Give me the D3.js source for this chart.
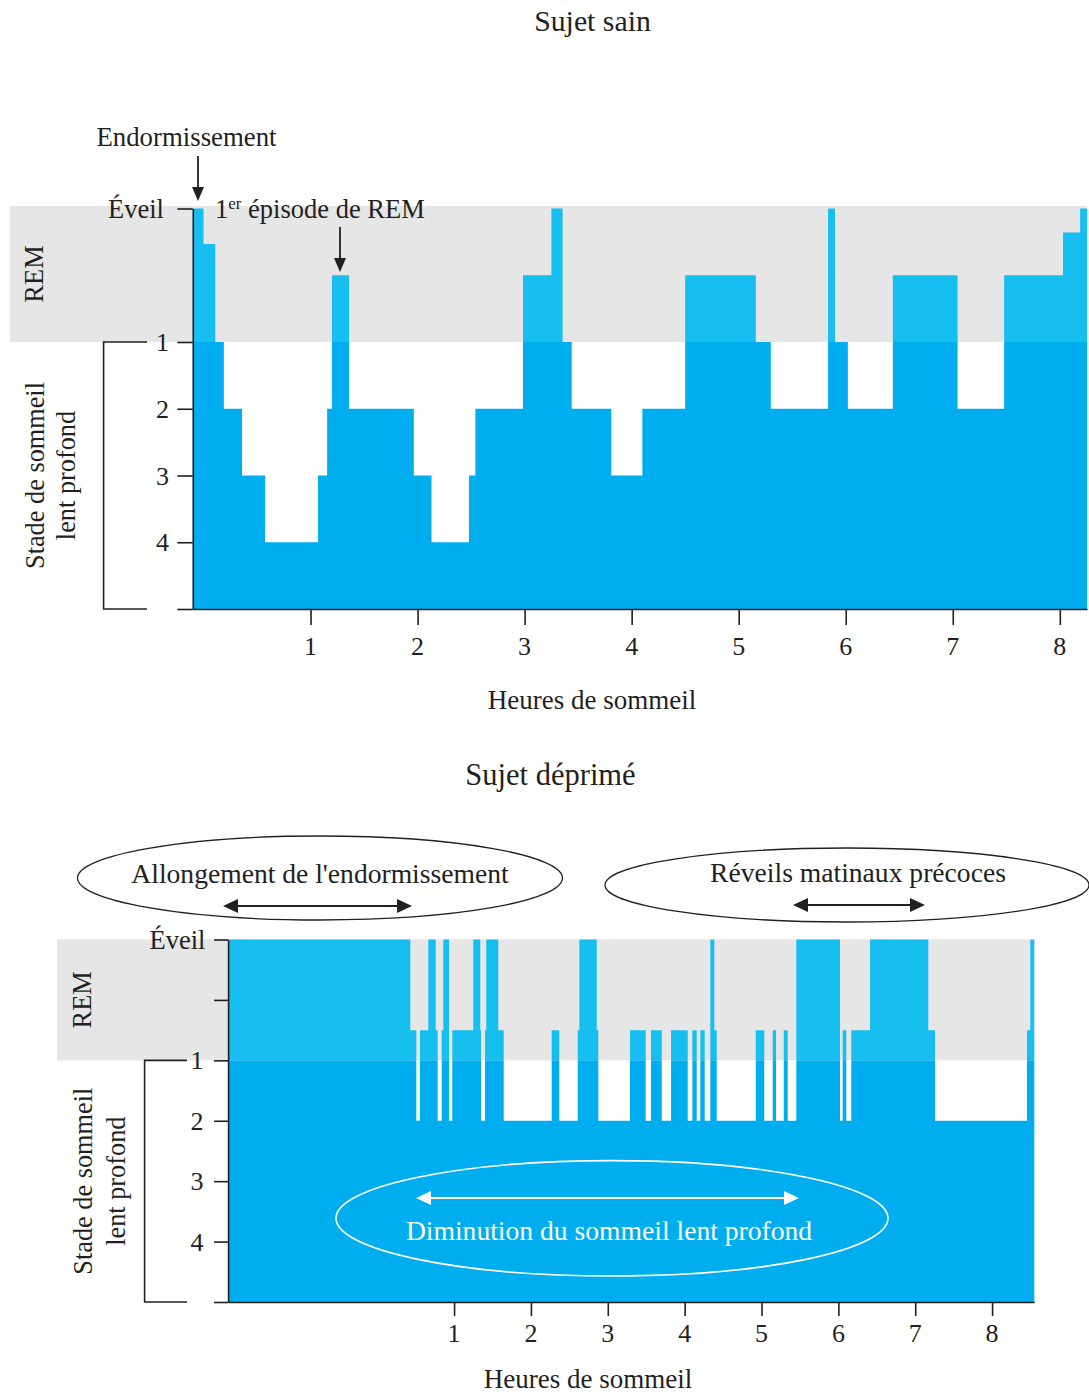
<!DOCTYPE html>
<html><head><meta charset="utf-8">
<script src="https://cdn.jsdelivr.net/npm/d3@7"></script>
<style>
body{margin:0;background:#fff}
svg text{font-family:"Liberation Serif","Times New Roman",serif;fill:#231F20}
</style>
</head><body>
<svg id="c" width="1089" height="1394"></svg>
<script>
// ---------- DATA ----------
// Stage levels: -1 = Éveil, 0 = REM (healthy), 0.5 = REM (depressed), 1..4 = slow-wave stages
const topStart = [-0.1, 0.0, 0.11, 0.19, 0.36, 0.575, 1.07, 1.155, 1.2, 1.36, 1.965, 2.13, 2.48, 2.54, 2.985, 3.25, 3.355, 3.44, 3.81, 4.10, 4.50, 5.16, 5.30, 5.835, 5.90, 6.02, 6.44, 7.045, 7.48, 8.03, 8.19];
const topLevel = [-1, -0.47, 1, 2, 3, 4, 3, 2, 0, 2, 3, 4, 3, 2, 0, -1, 1, 2, 3, 2, 0, 1, 2, -1, 1, 2, 0, 2, 0, -0.64, -1];
const topEnd = 8.255;

const botStart = [-1.94, 0.431, 0.509, 0.557, 0.665, 0.761, 0.787, 0.839, 0.86, 0.934, 0.977, 1.25, 1.341, 1.351, 1.403, 1.419, 1.576, 1.646, 2.27, 2.369, 2.609, 2.63, 2.856, 2.877, 3.289, 3.493, 3.562, 3.702, 3.823, 4.04, 4.10, 4.157, 4.204, 4.261, 4.334, 4.386, 4.417, 4.925, 5.036, 5.146, 5.189, 5.289, 5.341, 5.453, 6.021, 6.056, 6.103, 6.168, 6.412, 7.17, 7.257, 8.454, 8.497];
const botLevel = [-1, .5, 2, .5, -1, .5, 2, .5, -1, 2, .5, -1, .5, 2, .5, -1, .5, 2, .5, 2, .5, -1, .5, 2, .5, 2, .5, 2, .5, 2, .5, 2, .5, 2, -1, .5, 2, .5, 2, .5, 2, .5, 2, -1, 2, .5, 2, .5, -1, .5, 2, .5, -1];
const botEnd = 8.549;

const hourTicks = [1, 2, 3, 4, 5, 6, 7, 8];
const stageTicks = [1, 2, 3, 4];
const titles = ["Sujet sain", "Sujet déprimé"];
const xTitle = "Heures de sommeil";
const wakeLabel = "Éveil";
const remLabel = "REM";
const stageTitle = ["Stade de sommeil", "lent profond"];

// ---------- STYLE ----------
const INK = "#231F20", BLUE = "#00AEEF", LBLUE = "#17BEF0", GREY = "#E6E6E6";
const svg = d3.select("#c");
const defs = svg.append("defs");

function hypnogram(o) {
  const {x, y, starts, levels, end, id} = o;
  const pts = starts.map((s, i) => ({h: s, l: levels[i]}));
  pts.push({h: end, l: levels[levels.length - 1]});
  const x0 = x(starts[0]), x1 = x(end);
  // REM band
  svg.append("rect").attr("x", o.bandX).attr("y", o.bandTop)
    .attr("width", x1 - o.bandX).attr("height", y(1) - o.bandTop).attr("fill", GREY);
  defs.append("clipPath").attr("id", id + "u").append("rect")
    .attr("x", 0).attr("y", 0).attr("width", 1089).attr("height", y(1));
  defs.append("clipPath").attr("id", id + "l").append("rect")
    .attr("x", 0).attr("y", y(1)).attr("width", 1089).attr("height", 1394);
  const area = d3.area().x(d => x(d.h)).y0(y(5)).y1(d => y(d.l)).curve(d3.curveStepAfter);
  svg.append("path").datum(pts).attr("d", area).attr("fill", LBLUE).attr("clip-path", `url(#${id}u)`);
  svg.append("path").datum(pts).attr("d", area).attr("fill", BLUE).attr("clip-path", `url(#${id}l)`);

  // x axis
  const xa = x.copy().domain([starts[0], end]).range([x0, x1]);
  const gx = svg.append("g").attr("transform", `translate(0,${y(5)})`)
    .call(d3.axisBottom(xa).tickValues(hourTicks).tickSize(o.xTick).tickSizeOuter(0).tickFormat(""));
  gx.selectAll("path,line").attr("stroke", INK).attr("stroke-width", 1.6);
  svg.append("g").selectAll("text").data(hourTicks).join("text")
    .attr("x", d => x(d)).attr("y", o.xLabelY).attr("text-anchor", "middle")
    .attr("font-size", 26).text(d => d);

  // y axis
  const gy = svg.append("g").attr("transform", `translate(${x0},0)`)
    .call(d3.axisLeft(y).tickValues(o.yTicks).tickSize(o.yTick).tickSizeOuter(0).tickFormat(""));
  gy.selectAll("path,line").attr("stroke", INK).attr("stroke-width", 1.6);
  svg.append("g").selectAll("text").data(stageTicks).join("text")
    .attr("x", o.numX).attr("y", d => y(d) + 9).attr("text-anchor", "middle")
    .attr("font-size", 26).text(d => d);
  svg.append("text").attr("x", o.wakeX).attr("y", y(-1) + 9).attr("text-anchor", "end")
    .attr("font-size", 26.5).text(wakeLabel);

  // bracket
  svg.append("path").attr("d", `M${o.brR},${y(1)}H${o.brL}V${y(5)}H${o.brR}`)
    .attr("fill", "none").attr("stroke", INK).attr("stroke-width", 1.6);

  // rotated labels
  svg.append("text").attr("transform", `translate(${o.remX},${(o.bandTop + y(1)) / 2}) rotate(-90)`)
    .attr("text-anchor", "middle").attr("dominant-baseline", "central")
    .attr("font-size", 26.5).text(remLabel);
  const cy = (y(1) + y(5)) / 2;
  stageTitle.forEach((t, i) => {
    svg.append("text").attr("transform", `translate(${o.stX[i]},${cy}) rotate(-90)`)
      .attr("text-anchor", "middle").attr("dominant-baseline", "central")
      .attr("font-size", 26.3).text(t);
  });
  // titles
  svg.append("text").attr("x", o.titleX).attr("y", o.titleY).attr("text-anchor", "middle")
    .attr("font-size", o.titleSize).text(o.title);
  svg.append("text").attr("x", o.xTitleX).attr("y", o.xTitleY).attr("text-anchor", "middle")
    .attr("font-size", 27).text(xTitle);
}

function arrowHead(tipX, tipY, dir, col, len, wid) {
  let p;
  if (dir === "down") p = [[tipX, tipY], [tipX - wid / 2, tipY - len], [tipX + wid / 2, tipY - len]];
  else if (dir === "left") p = [[tipX, tipY], [tipX + len, tipY - wid / 2], [tipX + len, tipY + wid / 2]];
  else p = [[tipX, tipY], [tipX - len, tipY - wid / 2], [tipX - len, tipY + wid / 2]];
  svg.append("path").attr("d", d3.line()(p) + "Z").attr("fill", col);
}
function dblArrow(xa, xb, yy, col) {
  svg.append("line").attr("x1", xa + 6).attr("x2", xb - 6).attr("y1", yy).attr("y2", yy)
    .attr("stroke", col).attr("stroke-width", 2.2);
  arrowHead(xa, yy, "left", col, 15, 14);
  arrowHead(xb, yy, "right", col, 15, 14);
}

// ---------- TOP: healthy ----------
const xTop = d3.scaleLinear().domain([0, 8]).range([203.5, 1059.8]);
const yTop = d3.scaleLinear().domain([-1, 5]).range([208.5, 609]);
hypnogram({x: xTop, y: yTop, starts: topStart, levels: topLevel, end: topEnd, id: "t",
  bandX: 10, bandTop: 206, xTick: 16, xLabelY: 655, yTicks: [-1, 1, 2, 3, 4, 5], yTick: 15.5,
  numX: 162.5, wakeX: 164, brL: 103.6, brR: 147, remX: 34, stX: [35, 66],
  title: titles[0], titleX: 592.5, titleY: 31, titleSize: 29.8, xTitleX: 592, xTitleY: 709});

// annotations top
svg.append("text").attr("x", 186.5).attr("y", 146).attr("text-anchor", "middle").attr("font-size", 26.8).text("Endormissement");
svg.append("line").attr("x1", 198).attr("x2", 198).attr("y1", 156).attr("y2", 190).attr("stroke", INK).attr("stroke-width", 1.8);
arrowHead(198, 201, "down", INK, 14, 12);
const rem1 = svg.append("text").attr("x", 215).attr("y", 218).attr("font-size", 26.5);
rem1.append("tspan").text("1");
rem1.append("tspan").attr("font-size", 17).attr("dy", -9).text("er");
rem1.append("tspan").attr("dy", 9).text(" épisode de REM");
svg.append("line").attr("x1", 340).attr("x2", 340).attr("y1", 227).attr("y2", 262).attr("stroke", INK).attr("stroke-width", 1.8);
arrowHead(340, 272, "down", INK, 14, 12);

// ---------- BOTTOM: depressed ----------
const xBot = d3.scaleLinear().domain([0, 8]).range([377.2, 992.1]);
const yBot = d3.scaleLinear().domain([-1, 5]).range([939.5, 1302]);
hypnogram({x: xBot, y: yBot, starts: botStart, levels: botLevel, end: botEnd, id: "b",
  bandX: 57, bandTop: 939.3, xTick: 14, xLabelY: 1342, yTicks: [-1, 0, 1, 2, 3, 4, 5], yTick: 14,
  numX: 197, wakeX: 205.5, brL: 144.6, brR: 187, remX: 82, stX: [83, 116],
  title: titles[1], titleX: 550.5, titleY: 785, titleSize: 30.5, xTitleX: 588, xTitleY: 1388});

// ellipses
svg.append("ellipse").attr("cx", 320).attr("cy", 878).attr("rx", 242.5).attr("ry", 42)
  .attr("fill", "none").attr("stroke", INK).attr("stroke-width", 1.3);
svg.append("text").attr("x", 320).attr("y", 883).attr("text-anchor", "middle").attr("font-size", 27.6).text("Allongement de l'endormissement");
dblArrow(223, 412, 906, INK);

svg.append("ellipse").attr("cx", 847).attr("cy", 885).attr("rx", 242).attr("ry", 37)
  .attr("fill", "none").attr("stroke", INK).attr("stroke-width", 1.3);
svg.append("text").attr("x", 858).attr("y", 882).attr("text-anchor", "middle").attr("font-size", 27.6).text("Réveils matinaux précoces");
dblArrow(793, 925, 905, INK);

svg.append("ellipse").attr("cx", 612).attr("cy", 1218.3).attr("rx", 276).attr("ry", 57.7)
  .attr("fill", "none").attr("stroke", "#fff").attr("stroke-width", 1.6);
svg.append("text").attr("x", 609).attr("y", 1240).attr("text-anchor", "middle").attr("font-size", 27.6)
  .style("fill", "#fff").text("Diminution du sommeil lent profond");
dblArrow(416, 799, 1198, "#fff");
</script>
</body></html>
